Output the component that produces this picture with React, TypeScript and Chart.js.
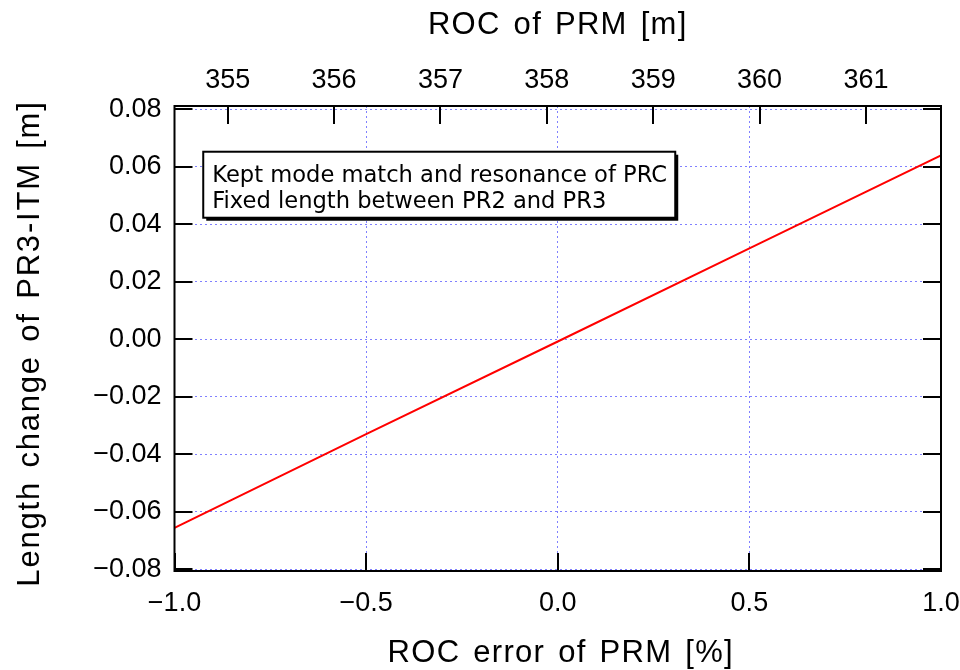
import { useEffect, useRef } from "react";
import { Chart, registerables } from "chart.js";

Chart.register(...registerables);

// ROC error of the PRM [%] and resulting length change of PR3-ITM [m]
const rocErrorPct = [-1.0, -0.5, 0.0, 0.5, 1.0];
const lengthChangeM = [-0.0656, -0.033, -0.0008, 0.0316, 0.0639];

// tick values of the three labelled axes
const errorTicks = [-1.0, -0.5, 0.0, 0.5, 1.0];
const lengthTicks = [-0.08, -0.06, -0.04, -0.02, 0.0, 0.02, 0.04, 0.06, 0.08];
const rocTicks = [355, 356, 357, 358, 359, 360, 361];

// absolute ROC of the PRM [m] spanned by the -1 % .. +1 % range
const rocMin = 354.5;
const rocMax = 361.705;

const xTitle = "ROC error of PRM [%]";
const x2Title = "ROC of PRM [m]";
const yTitle = "Length change of PR3-ITM [m]";

const noteLines = [
  "Kept mode match and resonance of PRC",
  "Fixed length between PR2 and PR3",
];

const MINUS = "\u2212";
const fmt = (v: number, digits: number) =>
  (v < 0 ? MINUS : "") + Math.abs(v).toFixed(digits);

const FAMILY = "'Liberation Sans', Arial, sans-serif";
const tickFont = { family: FAMILY, size: 27 };
const gridBlue = "#8080ff";

// keep the label overhang from shrinking the plot area
const noOverhang = (s: any) => {
  s.paddingLeft = 0;
  s.paddingRight = 0;
  s.paddingTop = 0;
  s.paddingBottom = 0;
};

// centred, slightly spaced axis title
function drawTitle(
  ctx: CanvasRenderingContext2D,
  text: string,
  cx: number,
  cy: number,
  rotate: boolean,
  letter: number,
  word: number
) {
  ctx.save();
  const c = ctx as any;
  c.letterSpacing = `${letter}px`;
  c.wordSpacing = `${word}px`;
  ctx.font = `31px ${FAMILY}`;
  ctx.fillStyle = "#000";
  ctx.textAlign = "left";
  ctx.textBaseline = "middle";
  const w = ctx.measureText(text).width;
  ctx.translate(cx, cy);
  if (rotate) ctx.rotate(-Math.PI / 2);
  ctx.fillText(text, -w / 2, 0);
  ctx.restore();
}

// frame, inward tick marks, axis titles and the note box
const framePlugin = {
  id: "frameAndTicks",
  afterDraw(chart: any) {
    const { ctx, chartArea: a, scales } = chart;
    const x = scales.x;
    const y = scales.y;
    const x2 = scales.x2;
    const midX = (a.left + a.right) / 2;
    const midY = (a.top + a.bottom) / 2;

    drawTitle(ctx, x2Title, midX, 25, false, 1.3, 3);
    drawTitle(ctx, xTitle, midX + 3, 653, false, 1.3, 3);
    drawTitle(ctx, yTitle, 30, midY + 5, true, 1.8, 3);

    // note box
    const bx = x.getPixelForValue(-0.925);
    const by = y.getPixelForValue(0.0652);
    const bw = 472;
    const bh = 66;
    ctx.save();
    ctx.fillStyle = "#000";
    ctx.fillRect(bx + 3, by + 3, bw, bh);
    ctx.fillStyle = "#fff";
    ctx.fillRect(bx, by, bw, bh);
    ctx.lineWidth = 2;
    ctx.strokeStyle = "#000";
    ctx.strokeRect(bx, by, bw, bh);
    ctx.fillStyle = "#000";
    ctx.font = "22.6px 'DejaVu Sans', sans-serif";
    ctx.textBaseline = "alphabetic";
    ctx.textAlign = "left";
    noteLines.forEach((line, i) => {
      ctx.fillText(line, bx + 9, by + 30 + i * 26);
    });
    ctx.restore();

    // plot frame
    ctx.save();
    ctx.strokeStyle = "#000";
    ctx.lineWidth = 2;
    ctx.strokeRect(a.left, a.top, a.right - a.left, a.bottom - a.top);

    // inward tick marks on all four sides
    const len = 18;
    ctx.beginPath();
    for (const v of lengthTicks) {
      const py = Math.round(y.getPixelForValue(v));
      ctx.moveTo(a.left, py);
      ctx.lineTo(a.left + len, py);
      ctx.moveTo(a.right, py);
      ctx.lineTo(a.right - len, py);
    }
    for (const v of errorTicks) {
      const px = Math.round(x.getPixelForValue(v));
      ctx.moveTo(px, a.bottom);
      ctx.lineTo(px, a.bottom - len);
    }
    for (const v of rocTicks) {
      const px = Math.round(x2.getPixelForValue(v));
      ctx.moveTo(px, a.top);
      ctx.lineTo(px, a.top + len);
    }
    ctx.stroke();
    ctx.restore();
  },
};

export default function App() {
  const canvasRef = useRef<HTMLCanvasElement | null>(null);

  useEffect(() => {
    const canvas = canvasRef.current;
    if (!canvas) return;

    const chart = new Chart(canvas, {
      type: "line",
      data: {
        datasets: [
          {
            data: rocErrorPct.map((v, i) => ({ x: v, y: lengthChangeM[i] })),
            borderColor: "#ff0000",
            borderWidth: 2,
            pointRadius: 0,
            fill: false,
            tension: 0,
            xAxisID: "x",
            yAxisID: "y",
          },
        ],
      },
      options: {
        responsive: false,
        animation: false,
        devicePixelRatio: 1,
        layout: { padding: { left: 0, right: 19, top: 0, bottom: 0 } },
        plugins: {
          legend: { display: false },
          tooltip: { enabled: false },
        },
        scales: {
          x: {
            type: "linear",
            position: "bottom",
            min: -1,
            max: 1,
            afterBuildTicks: (s: any) => {
              s.ticks = errorTicks.map((value) => ({ value }));
            },
            afterFit: (s: any) => {
              s.height = 99;
              noOverhang(s);
            },
            ticks: {
              autoSkip: false,
              maxRotation: 0,
              padding: 16,
              color: "#000",
              font: tickFont,
              callback: (v: any) => fmt(Number(v), 1),
            },
            grid: {
              color: gridBlue,
              lineWidth: 1,
              drawTicks: false,
            },
            border: { display: false, dash: [2, 3] },
          },
          x2: {
            type: "linear",
            position: "top",
            min: rocMin,
            max: rocMax,
            afterBuildTicks: (s: any) => {
              s.ticks = rocTicks.map((value) => ({ value }));
            },
            afterFit: (s: any) => {
              s.height = 106;
              noOverhang(s);
            },
            ticks: {
              autoSkip: false,
              maxRotation: 0,
              padding: 9,
              color: "#000",
              font: tickFont,
              callback: (v: any) => String(v),
            },
            grid: { display: false, drawTicks: false },
            border: { display: false },
          },
          y: {
            type: "linear",
            position: "left",
            min: -0.0806,
            max: 0.0811,
            afterBuildTicks: (s: any) => {
              s.ticks = lengthTicks.map((value) => ({ value }));
            },
            afterFit: (s: any) => {
              s.width = 174.5;
              noOverhang(s);
            },
            ticks: {
              autoSkip: false,
              padding: 13,
              color: "#000",
              font: tickFont,
              callback: (v: any) => fmt(Number(v), 2),
            },
            grid: {
              color: gridBlue,
              lineWidth: 1,
              drawTicks: false,
            },
            border: { display: false, dash: [2, 3] },
          },
        },
      },
      plugins: [framePlugin],
    });

    return () => chart.destroy();
  }, []);

  return (
    <div
      style={{
        position: "absolute",
        left: 0,
        top: 0,
        width: 960,
        height: 670,
        background: "#fff",
      }}
    >
      <canvas ref={canvasRef} width={960} height={670} />
    </div>
  );
}
